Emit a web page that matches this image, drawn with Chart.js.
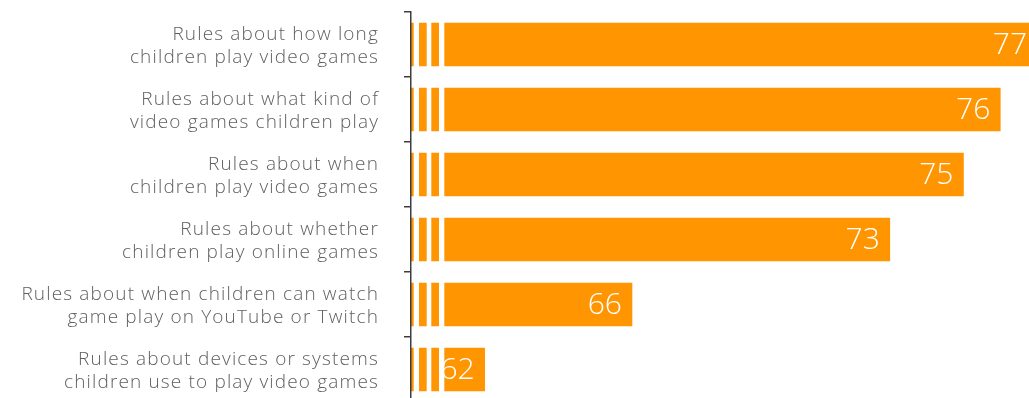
<!DOCTYPE html>
<html>
<head>
<meta charset="utf-8">
<script src="https://cdn.jsdelivr.net/npm/chart.js@4.4.1/dist/chart.umd.min.js"></script>
<style>
  html, body { margin: 0; padding: 0; background: #ffffff; overflow: hidden; }
  canvas { display: block; }
</style>
</head>
<body>
<canvas id="chart" width="1029" height="402"></canvas>
<script>
// Survey items, each split into two display lines
const categories = [
  ['Rules about how long', 'children play video games'],
  ['Rules about what kind of', 'video games children play'],
  ['Rules about when', 'children play video games'],
  ['Rules about whether', 'children play online games'],
  ['Rules about when children can watch', 'game play on YouTube or Twitch'],
  ['Rules about devices or systems', 'children use to play video games']
];
const values = [77, 76, 75, 73, 66, 62];

// Axis starts above zero, so each bar gets a "broken axis" notch near its base
const axisMin = 60;
const axisMax = 76.78;
const breakGaps = [[2.7, 8], [15.7, 20.3], [28, 33.3]];

const barColor = '#ff9500';
const textColor = '#606060';
const axisColor = '#3d3d3d';

// Wider tracking for the category labels
const labelTracking = {
  id: 'labelTracking',
  beforeDraw(chart) { chart.ctx.letterSpacing = '1.15px'; },
  afterDraw(chart) { chart.ctx.letterSpacing = '0px'; }
};

const axisBreakPlugin = {
  id: 'axisBreak',
  afterDatasetsDraw(chart) {
    const ctx = chart.ctx;
    const left = chart.chartArea.left;
    const meta = chart.getDatasetMeta(0);
    ctx.save();
    ctx.fillStyle = '#ffffff';
    meta.data.forEach(bar => {
      const top = bar.y - bar.height / 2;
      breakGaps.forEach(([a, b]) => {
        ctx.fillRect(left + a, top - 1, b - a, bar.height + 2);
      });
    });
    ctx.restore();
  }
};

const valueLabelPlugin = {
  id: 'valueLabels',
  afterDatasetsDraw(chart) {
    const ctx = chart.ctx;
    const meta = chart.getDatasetMeta(0);
    const ds = chart.data.datasets[0];
    ctx.save();
    ctx.letterSpacing = '0px';
    ctx.fillStyle = '#ffffff';
    ctx.font = '300 30px "Open Sans", Lato, sans-serif';
    ctx.textAlign = 'right';
    ctx.textBaseline = 'middle';
    meta.data.forEach((bar, i) => {
      ctx.fillText(String(ds.data[i]), bar.x - 10, bar.y + 1);
    });
    ctx.restore();
  }
};

new Chart(document.getElementById('chart'), {
  type: 'bar',
  data: {
    labels: categories,
    datasets: [{
      data: values,
      backgroundColor: barColor,
      borderWidth: 0,
      barThickness: 43
    }]
  },
  options: {
    indexAxis: 'y',
    responsive: false,
    maintainAspectRatio: false,
    animation: false,
    layout: { padding: { top: 12, right: 0, bottom: 0, left: 0 } },
    plugins: {
      legend: { display: false },
      tooltip: { enabled: false }
    },
    scales: {
      x: {
        display: false,
        min: axisMin,
        max: axisMax
      },
      y: {
        afterFit(scale) {
          scale.width = 411;
          scale.paddingTop = 0;
          scale.paddingBottom = 0;
        },
        grid: {
          display: true,
          offset: true,
          drawOnChartArea: false,
          drawTicks: true,
          tickLength: 7,
          color: axisColor,
          tickColor: axisColor,
          tickWidth: 1.5,
          lineWidth: 1.5
        },
        border: { display: true, color: axisColor, width: 1.5, z: 1 },
        ticks: {
          color: textColor,
          padding: 25,
          labelOffset: 2,
          font: { family: '"Open Sans", Lato, sans-serif', size: 19, weight: 300, lineHeight: 1.22 }
        }
      }
    }
  },
  plugins: [labelTracking, axisBreakPlugin, valueLabelPlugin]
});
</script>
</body>
</html>
